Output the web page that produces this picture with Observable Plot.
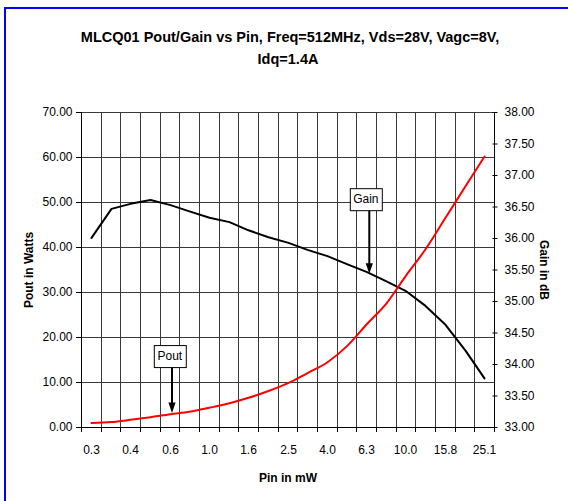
<!DOCTYPE html>
<html><head><meta charset="utf-8">
<script src="https://cdn.jsdelivr.net/npm/d3@7"></script>
<script src="https://cdn.jsdelivr.net/npm/@observablehq/plot@0.6"></script>
<style>
html,body{margin:0;padding:0;background:#fff;}
#wrap{position:relative;width:568px;height:501px;overflow:hidden;background:#fff;}
#chart{position:absolute;left:0;top:0;}
#border{position:absolute;left:4px;top:7px;width:700px;height:700px;border-left:2px solid #0000ff;border-top:2px solid #0000ff;pointer-events:none;}
</style></head><body>
<div id="wrap"><div id="chart"></div><div id="border"></div></div>
<script>
// ---- data ----
const pinMw = [0.25,0.32,0.40,0.50,0.63,0.79,1.00,1.26,1.58,2.00,2.51,3.16,3.98,5.01,6.31,7.94,10.0,12.6,15.8,20.0,25.1];
const poutW = [1.0,1.2,1.7,2.3,2.96,3.5,4.4,5.4,6.6,8.1,9.9,12.1,14.5,18.2,22.9,27.6,33.6,39.6,46.6,53.6,60.2];
const gainDb = [36.01,36.47,36.55,36.61,36.53,36.43,36.33,36.26,36.13,36.02,35.93,35.82,35.72,35.59,35.47,35.32,35.17,34.93,34.63,34.22,33.78];
const xTickLabels = ["0.3","0.4","0.6","1.0","1.6","2.5","4.0","6.3","10.0","15.8","25.1"];
const xTickIndex = [0,2,4,6,8,10,12,14,16,18,20];
const poutTicks = [0,10,20,30,40,50,60,70];
const gainTicks = [33.0,33.5,34.0,34.5,35.0,35.5,36.0,36.5,37.0,37.5,38.0];
const annotations = [{label:"Gain", index:14, series:"gain"}, {label:"Pout", index:4, series:"pout"}];
const titleLines = ["MLCQ01 Pout/Gain vs Pin, Freq=512MHz, Vds=28V, Vagc=8V,", "Idq=1.4A"];
const xLabel = "Pin in mW", yLabel = "Pout in Watts", y2Label = "Gain in dB";

// ---- helpers ----
const poutMin = poutTicks[0], poutMax = poutTicks[poutTicks.length-1];
const gainMin = gainTicks[0], gainMax = gainTicks[gainTicks.length-1];
const toLeft = g => poutMin + (g - gainMin) / (gainMax - gainMin) * (poutMax - poutMin);
const fromLeft = v => gainMin + (v - poutMin) / (poutMax - poutMin) * (gainMax - gainMin);
const data = pinMw.map((p, i) => ({i, pin: p, pout: poutW[i], gainL: toLeft(gainDb[i])}));
const boundaries = pinMw.map((_, i) => i - 0.5).concat([pinMw.length - 0.5]);
const annY = d => d.series === "gain" ? toLeft(gainDb[d.index]) : poutW[d.index];

const font = '"Liberation Sans", Arial, Helvetica, sans-serif';
const shaftShape = (head) => ({draw(ctx, l) { ctx.moveTo(0, -l); ctx.lineTo(0, -head + 1); }});
const headShape = {draw(ctx) { ctx.moveTo(-3.6, -10.5); ctx.lineTo(3.6, -10.5); ctx.lineTo(0, 0); ctx.closePath(); }};

const gainAnn = [annotations[0]], poutAnn = [annotations[1]];
const gridColor = "#3a3a3a";

const plot = Plot.plot({
  width: 568, height: 501,
  marginLeft: 81, marginRight: 74, marginTop: 112, marginBottom: 74,
  style: {fontFamily: font, fontSize: "12px", color: "#000", background: "transparent", overflow: "visible"},
  x: {type: "linear", domain: [-0.5, pinMw.length - 0.5], round: true},
  y: {type: "linear", domain: [poutMin, poutMax]},
  marks: [
    Plot.gridX(boundaries, {stroke: gridColor, strokeOpacity: 1}),
    Plot.gridY(poutTicks, {stroke: gridColor, strokeOpacity: 1}),
    Plot.ruleX([boundaries[0], boundaries[boundaries.length-1]], {stroke: "#000"}),
    Plot.ruleY([poutMin], {stroke: "#000"}),
    Plot.axisX(boundaries, {tickSize: 5, tickFormat: () => "", label: null, stroke: "#000"}),
    Plot.axisX(xTickIndex, {tickSize: 0, tickPadding: 18, tickFormat: v => xTickLabels[xTickIndex.indexOf(v)], label: null, fontSize: 12}),
    Plot.axisY(poutTicks, {anchor: "left", tickSize: 5, tickFormat: () => "", label: null, stroke: "#000"}),
    Plot.axisY(poutTicks, {anchor: "left", tickSize: 0, tickPadding: 9, tickFormat: v => v.toFixed(2), label: null, fontSize: 12}),
    Plot.axisY(gainTicks.map(toLeft), {anchor: "right", tickSize: 5, insetRight: 2.5, tickFormat: () => "", label: null, stroke: "#000"}),
    Plot.axisY(gainTicks.map(toLeft), {anchor: "right", tickSize: 0, tickPadding: 10, tickFormat: v => fromLeft(v).toFixed(2), label: null, fontSize: 12}),
    Plot.line(data, {x: "i", y: "gainL", stroke: "#000", strokeWidth: 2}),
    Plot.line(data, {x: "i", y: "pout", stroke: "#ff0000", strokeWidth: 2, curve: "monotone-x"}),
    // Gain annotation
    Plot.vector(gainAnn, {x: "index", y: annY, length: 63.7, anchor: "start", shape: shaftShape(10.5), stroke: "#000", strokeWidth: 2, dx: 2.8, dy: 1.8}),
    Plot.vector(gainAnn, {x: "index", y: annY, length: 63.7, anchor: "start", shape: headShape, stroke: "none", fill: "#000", dx: 2.8, dy: 1.8}),
    Plot.text(gainAnn, {x: "index", y: annY, text: "label", dx: -0.7, dy: -72.7, lineAnchor: "middle", fontSize: 12}),
    // Pout annotation
    Plot.vector(poutAnn, {x: "index", y: annY, length: 46.3, anchor: "start", shape: shaftShape(10.5), stroke: "#000", strokeWidth: 2, dx: 1.5, dy: -1.3}),
    Plot.vector(poutAnn, {x: "index", y: annY, length: 46.3, anchor: "start", shape: headShape, stroke: "none", fill: "#000", dx: 1.5, dy: -1.3}),
    Plot.text(poutAnn, {x: "index", y: annY, text: "label", dx: -0.7, dy: -58.1, lineAnchor: "middle", fontSize: 12})
  ]
});
document.getElementById("chart").appendChild(plot);

const svg = d3.select(plot);
const annLabels = annotations.map(a => a.label);
// boxes behind annotation labels
svg.selectAll("text").filter(function() { return annLabels.includes(this.textContent); }).each(function() {
  const b = this.getBBox();
  const r = document.createElementNS("http://www.w3.org/2000/svg", "rect");
  this.parentNode.insertBefore(r, this);
  const t = this.getAttribute("transform");
  if (t) r.setAttribute("transform", t);
  d3.select(r)
    .attr("x", Math.round(b.x - 3.5) + 0.5).attr("y", Math.round(b.y - 4) + 0.5)
    .attr("width", Math.round(b.width + 7)).attr("height", Math.round(b.height + 8))
    .attr("fill", "#fff").attr("stroke", "#000").attr("stroke-width", 1);
});
// titles & axis labels
const tg = svg.append("g").attr("font-family", font).attr("fill", "#000");
tg.append("text").attr("x", 290).attr("y", 42).attr("text-anchor", "middle").attr("font-weight", "bold").attr("font-size", 14.5).text(titleLines[0]);
tg.append("text").attr("x", 288).attr("y", 64).attr("text-anchor", "middle").attr("font-weight", "bold").attr("font-size", 14.5).text(titleLines[1]);
tg.append("text").attr("x", 288).attr("y", 481.5).attr("text-anchor", "middle").attr("font-weight", "bold").attr("font-size", 12).text(xLabel);
tg.append("text").attr("transform", "translate(33,270) rotate(-90)").attr("text-anchor", "middle").attr("font-weight", "bold").attr("font-size", 12).text(yLabel);
tg.append("text").attr("transform", "translate(540,270) rotate(90)").attr("text-anchor", "middle").attr("font-weight", "bold").attr("font-size", 12).text(y2Label);
</script>
</body></html>
